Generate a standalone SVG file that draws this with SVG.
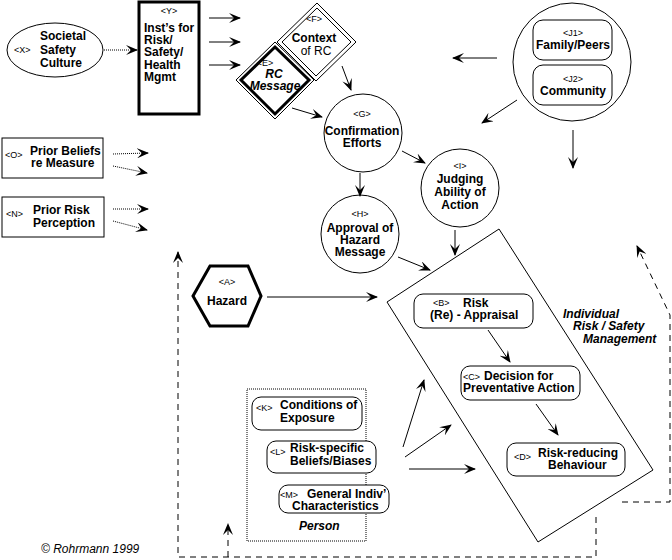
<svg xmlns="http://www.w3.org/2000/svg" width="672" height="560" viewBox="0 0 672 560">
<defs>
<marker id="ah" markerWidth="12" markerHeight="10" refX="11" refY="5" orient="auto" markerUnits="userSpaceOnUse"><path d="M0,0 L12,5 L0,10 L5,5 z" fill="#000"/></marker>
<style>
text{font-family:"Liberation Sans",Arial,sans-serif;fill:#000}
.b{font-size:12px;font-weight:bold}
.n{font-size:12px}
.s{font-size:9px}
.bi{font-size:12px;font-weight:bold;font-style:italic}
.m{text-anchor:middle}
.ln{fill:none;stroke:#000;stroke-width:1}
.ar{fill:none;stroke:#000;stroke-width:1;marker-end:url(#ah)}
.dt{fill:none;stroke:#000;stroke-width:1;stroke-dasharray:1,1}
.dta{fill:none;stroke:#000;stroke-width:1;stroke-dasharray:1,1;marker-end:url(#ah)}
.ds{fill:none;stroke:#000;stroke-width:1;stroke-dasharray:6,5}
.dsa{fill:none;stroke:#000;stroke-width:1;stroke-dasharray:6,5;marker-end:url(#ah)}
.box{fill:#fff;stroke:#000;stroke-width:1}
</style>
</defs>
<rect width="672" height="560" fill="#fff"/>

<g id="node-ism">
<polygon points="387,302 499,229 653,470 538,542" class="box"/>
<text class="bi" x="563" y="318">Individual</text>
<text class="bi" x="573" y="330">Risk / Safety</text>
<text class="bi" x="583" y="343">Management</text>
</g>

<g id="node-X">
<ellipse cx="55" cy="50" rx="48" ry="27" class="box"/>
<text class="s" x="14" y="53">&lt;X&gt;</text>
<text class="b" x="40" y="40">Societal</text>
<text class="b" x="40" y="54">Safety</text>
<text class="b" x="40" y="67">Culture</text>
</g>

<g id="node-Y">
<rect x="139" y="2" width="60" height="112" fill="#fff" stroke="#000" stroke-width="3"/>
<text class="s m" x="169" y="14">&lt;Y&gt;</text>
<text class="b" x="144" y="32">Inst’s for</text>
<text class="b" x="144" y="44">Risk/</text>
<text class="b" x="144" y="56">Safety/</text>
<text class="b" x="144" y="69">Health</text>
<text class="b" x="144" y="81">Mgmt</text>
</g>

<g id="node-F">
<polygon points="317,3 356,42 316,81 277,42" class="box"/>
<polygon points="317,8 351,42 316,76 282,42" fill="none" stroke="#000" stroke-width="1"/>
<text class="s m" x="314" y="22">&lt;F&gt;</text>
<text class="b m" x="314" y="42">Context</text>
<text class="n m" x="316" y="55">of RC</text>
</g>

<g id="node-E">
<polygon points="275,42 314,80 275,119 236,80" class="box"/>
<polygon points="275,47 309,80 275,114 241,80" fill="none" stroke="#000" stroke-width="3"/>
<text class="s m" x="265" y="66">&lt;E&gt;</text>
<text class="bi m" x="274" y="78">RC</text>
<text class="bi m" x="275" y="90">Message</text>
</g>

<g id="node-G">
<circle cx="363" cy="133" r="39" class="box"/>
<text class="s m" x="362" y="117">&lt;G&gt;</text>
<text class="b m" x="362" y="135">Confirmation</text>
<text class="b m" x="362" y="147">Efforts</text>
</g>

<g id="node-H">
<circle cx="360" cy="234" r="39" class="box"/>
<text class="s m" x="360" y="217">&lt;H&gt;</text>
<text class="b m" x="360" y="232">Approval of</text>
<text class="b m" x="360" y="244">Hazard</text>
<text class="b m" x="360" y="256">Message</text>
</g>

<g id="node-I">
<circle cx="460" cy="188" r="39" class="box"/>
<text class="s m" x="460" y="169">&lt;I&gt;</text>
<text class="b m" x="460" y="183">Judging</text>
<text class="b m" x="460" y="196">Ability of</text>
<text class="b m" x="460" y="209">Action</text>
</g>

<g id="node-J">
<circle cx="572" cy="62" r="59" class="box"/>
<rect x="533" y="20" width="79" height="40" rx="10" class="box"/>
<rect x="533" y="65" width="79" height="40" rx="10" class="box"/>
<text class="s m" x="573" y="36">&lt;J1&gt;</text>
<text class="b m" x="573" y="49">Family/Peers</text>
<text class="s m" x="573" y="82">&lt;J2&gt;</text>
<text class="b m" x="573" y="95">Community</text>
</g>

<g id="node-O">
<rect x="2" y="138" width="101" height="40" class="box"/>
<text class="s" x="5" y="158">&lt;O&gt;</text>
<text class="b" x="30" y="155">Prior Beliefs</text>
<text class="b" x="31" y="167">re Measure</text>
</g>

<g id="node-N">
<rect x="2" y="197" width="102" height="40" class="box"/>
<text class="s" x="6" y="217">&lt;N&gt;</text>
<text class="b" x="33" y="214">Prior Risk</text>
<text class="b" x="33" y="227">Perception</text>
</g>

<g id="node-A">
<polygon points="193,296 210,266 248,266 261,296 248,326 210,326" fill="#fff" stroke="#000" stroke-width="3"/>
<text class="s m" x="227" y="285">&lt;A&gt;</text>
<text class="b m" x="227" y="305">Hazard</text>
</g>

<g id="node-B">
<rect x="414" y="294" width="119" height="34" rx="9" class="box"/>
<text class="s" x="433" y="306">&lt;B&gt;</text>
<text class="b" x="463" y="307">Risk</text>
<text class="b" x="430" y="319">(Re) - Appraisal</text>
</g>

<g id="node-C">
<rect x="461" y="366" width="119" height="34" rx="9" class="box"/>
<text class="s" x="463" y="380">&lt;C&gt;</text>
<text class="b" x="484" y="380">Decision for</text>
<text class="b" x="463" y="392">Preventative Action</text>
</g>

<g id="node-D">
<rect x="507" y="443" width="118" height="33" rx="9" class="box"/>
<text class="s" x="514" y="460">&lt;D&gt;</text>
<text class="b" x="538" y="457">Risk-reducing</text>
<text class="b" x="548" y="469">Behaviour</text>
</g>

<g id="node-person">
<rect x="247" y="389" width="119" height="152" fill="none" stroke="#000" stroke-width="1" stroke-dasharray="1,1"/>
<text class="bi" x="299" y="530">Person</text>
</g>

<g id="node-K">
<rect x="252" y="397" width="110" height="33" rx="9" class="box"/>
<text class="s" x="256" y="411">&lt;K&gt;</text>
<text class="b" x="280" y="409">Conditions of</text>
<text class="b" x="280" y="422">Exposure</text>
</g>

<g id="node-L">
<rect x="267" y="441" width="109" height="32" rx="9" class="box"/>
<text class="s" x="270" y="455">&lt;L&gt;</text>
<text class="b" x="290" y="452">Risk-specific</text>
<text class="b" x="290" y="465">Beliefs/Biases</text>
</g>

<g id="node-M">
<rect x="279" y="485" width="110" height="28" rx="9" class="box"/>
<text class="s" x="280" y="498">&lt;M&gt;</text>
<text class="b" x="307" y="498">General Indiv’</text>
<text class="b" x="292" y="510">Characteristics</text>
</g>

<g id="connectors">
<line x1="104" y1="50" x2="137" y2="50" class="dta"/>
<line x1="209" y1="18" x2="240" y2="18" class="ar"/>
<line x1="209" y1="42" x2="240" y2="42" class="ar"/>
<line x1="209" y1="65" x2="240" y2="65" class="ar"/>
<line x1="342" y1="66" x2="351" y2="90" class="ar"/>
<line x1="292" y1="108" x2="322" y2="117" class="ar"/>
<line x1="360" y1="173" x2="360" y2="196" class="ar"/>
<line x1="402" y1="151" x2="425" y2="163" class="ar"/>
<line x1="398" y1="257" x2="430" y2="270" class="ar"/>
<line x1="455" y1="230" x2="455" y2="255" class="ar"/>
<line x1="497" y1="58" x2="453" y2="58" class="ar"/>
<line x1="517" y1="100" x2="482" y2="123" class="ar"/>
<line x1="573" y1="130" x2="573" y2="168" class="ar"/>
<line x1="113" y1="154" x2="148" y2="153" class="dta"/>
<line x1="113" y1="166" x2="147" y2="173" class="dta"/>
<line x1="113" y1="209" x2="148" y2="209" class="dta"/>
<line x1="113" y1="221" x2="147" y2="230" class="dta"/>
<line x1="267" y1="297" x2="377" y2="297" class="ar"/>
<line x1="488" y1="330" x2="510" y2="362" class="ar"/>
<line x1="536" y1="404" x2="558" y2="435" class="ar"/>
<line x1="403" y1="447" x2="424" y2="380" class="ar"/>
<line x1="405" y1="457" x2="451" y2="425" class="ar"/>
<line x1="409" y1="469" x2="475" y2="469" class="ar"/>
<polyline points="596,517 596,557 178,557 178,252" class="dsa"/>
<line x1="228" y1="557" x2="228" y2="524" class="dsa"/>
<polyline points="622,502 670,502 670,315 637,246" class="dsa"/>
</g>

<text x="41" y="553" style="font-size:12px;font-style:italic">© Rohrmann 1999</text>
</svg>
